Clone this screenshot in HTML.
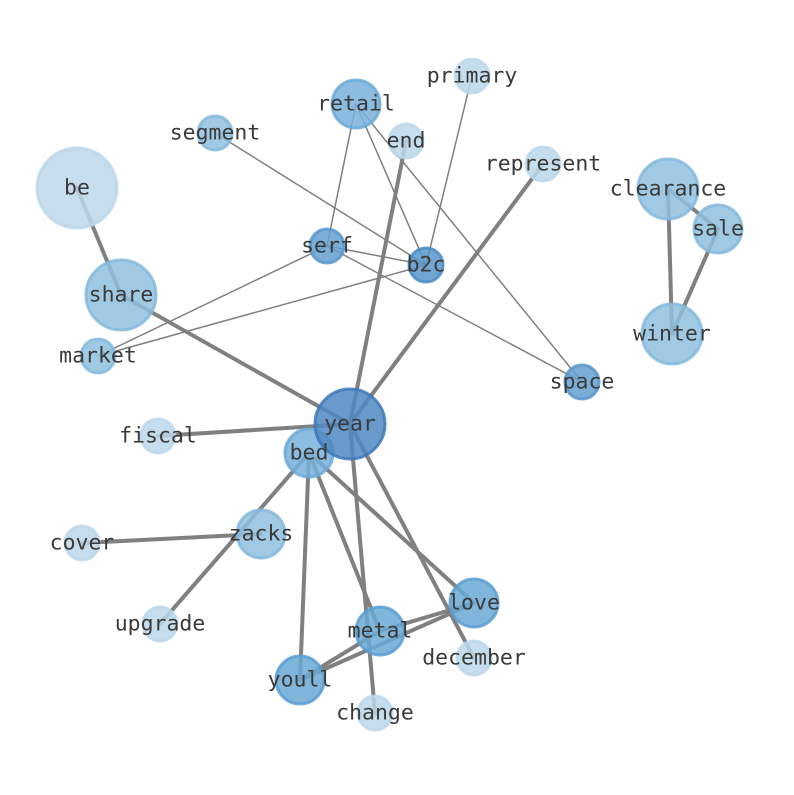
<!DOCTYPE html>
<html><head><meta charset="utf-8"><style>html,body{margin:0;padding:0;background:#fff}</style></head><body>
<svg width="794" height="790" viewBox="0 0 794 790" xmlns="http://www.w3.org/2000/svg">
<g stroke="#808080" stroke-linecap="round" fill="none">
<g stroke-width="1.5">
<line x1="215" y1="133" x2="426" y2="265"/>
<line x1="356" y1="104" x2="327" y2="246"/>
<line x1="356" y1="104" x2="426" y2="265"/>
<line x1="356" y1="104" x2="582" y2="382"/>
<line x1="327" y1="246" x2="426" y2="265"/>
<line x1="327" y1="246" x2="582" y2="382"/>
<line x1="327" y1="246" x2="98" y2="356"/>
<line x1="98" y1="356" x2="426" y2="265"/>
<line x1="472" y1="76" x2="426" y2="265"/>
</g>
<g stroke-width="4">
<line x1="77" y1="188" x2="121" y2="295"/>
<line x1="121" y1="295" x2="350" y2="424"/>
<line x1="158" y1="436" x2="350" y2="424"/>
<line x1="350" y1="424" x2="406" y2="141"/>
<line x1="350" y1="424" x2="543" y2="164"/>
<line x1="350" y1="424" x2="375" y2="713"/>
<line x1="350" y1="424" x2="474" y2="658"/>
<line x1="668" y1="189" x2="672" y2="334"/>
<line x1="668" y1="189" x2="718" y2="229"/>
<line x1="718" y1="229" x2="672" y2="334"/>
<line x1="309" y1="453" x2="160" y2="624"/>
<line x1="309" y1="453" x2="300" y2="680"/>
<line x1="309" y1="453" x2="380" y2="631"/>
<line x1="309" y1="453" x2="474" y2="603"/>
<line x1="261" y1="534" x2="82" y2="543"/>
<line x1="300" y1="680" x2="474" y2="603"/>
<line x1="380" y1="631" x2="474" y2="603"/>
<line x1="300" y1="680" x2="380" y2="631"/>
</g>
</g>
<g stroke-width="3" fill-opacity="0.85" stroke-opacity="0.85">
<circle cx="77" cy="188" r="40" fill="#bcd7ea" stroke="#bcd7ea"/>
<circle cx="121" cy="295" r="35" fill="#8fc1df" stroke="#84b9dc"/>
<circle cx="98" cy="356" r="17" fill="#8fc1df" stroke="#84b9dc"/>
<circle cx="215" cy="133" r="17" fill="#8fc1df" stroke="#84b9dc"/>
<circle cx="356" cy="104" r="24" fill="#78b2da" stroke="#6aa9d5"/>
<circle cx="406" cy="141" r="17" fill="#bcd7ea" stroke="#bcd7ea"/>
<circle cx="472" cy="76" r="17" fill="#bcd7ea" stroke="#bcd7ea"/>
<circle cx="543" cy="164" r="17" fill="#bcd7ea" stroke="#bcd7ea"/>
<circle cx="668" cy="189" r="30" fill="#8fc1df" stroke="#84b9dc"/>
<circle cx="718" cy="229" r="24" fill="#8fc1df" stroke="#84b9dc"/>
<circle cx="672" cy="334" r="30" fill="#8fc1df" stroke="#84b9dc"/>
<circle cx="327" cy="246" r="17" fill="#64a0d0" stroke="#5896cb"/>
<circle cx="426" cy="265" r="17" fill="#5896cb" stroke="#4a8bc4"/>
<circle cx="582" cy="382" r="17" fill="#64a0d0" stroke="#5896cb"/>
<circle cx="309" cy="453" r="24" fill="#78b2da" stroke="#6aa9d5"/>
<circle cx="350" cy="424" r="35" fill="#4f88c2" stroke="#3d78b8"/>
<circle cx="158" cy="436" r="17" fill="#bcd7ea" stroke="#bcd7ea"/>
<circle cx="261" cy="534" r="24" fill="#8fc1df" stroke="#84b9dc"/>
<circle cx="82" cy="543" r="17" fill="#bcd7ea" stroke="#bcd7ea"/>
<circle cx="160" cy="624" r="17" fill="#bcd7ea" stroke="#bcd7ea"/>
<circle cx="474" cy="603" r="24" fill="#6aa9d5" stroke="#5c9ed0"/>
<circle cx="380" cy="631" r="24" fill="#6aa9d5" stroke="#5c9ed0"/>
<circle cx="474" cy="658" r="17" fill="#bcd7ea" stroke="#bcd7ea"/>
<circle cx="300" cy="680" r="24" fill="#6aa9d5" stroke="#5c9ed0"/>
<circle cx="375" cy="713" r="17" fill="#bcd7ea" stroke="#bcd7ea"/>
</g>
<g font-family="DejaVu Sans Mono, Liberation Mono, monospace" font-size="21.5" fill="#3a3a3a" text-anchor="middle" dominant-baseline="central">
<text x="77" y="188">be</text>
<text x="121" y="295">share</text>
<text x="98" y="356">market</text>
<text x="215" y="133">segment</text>
<text x="356" y="104">retail</text>
<text x="406" y="141">end</text>
<text x="472" y="76">primary</text>
<text x="543" y="164">represent</text>
<text x="668" y="189">clearance</text>
<text x="718" y="229">sale</text>
<text x="672" y="334">winter</text>
<text x="327" y="246">serf</text>
<text x="426" y="265">b2c</text>
<text x="582" y="382">space</text>
<text x="350" y="424">year</text>
<text x="309" y="453">bed</text>
<text x="158" y="436">fiscal</text>
<text x="261" y="534">zacks</text>
<text x="82" y="543">cover</text>
<text x="160" y="624">upgrade</text>
<text x="474" y="603">love</text>
<text x="380" y="631">metal</text>
<text x="474" y="658">december</text>
<text x="300" y="680">youll</text>
<text x="375" y="713">change</text>
</g>
</svg>
</body></html>
